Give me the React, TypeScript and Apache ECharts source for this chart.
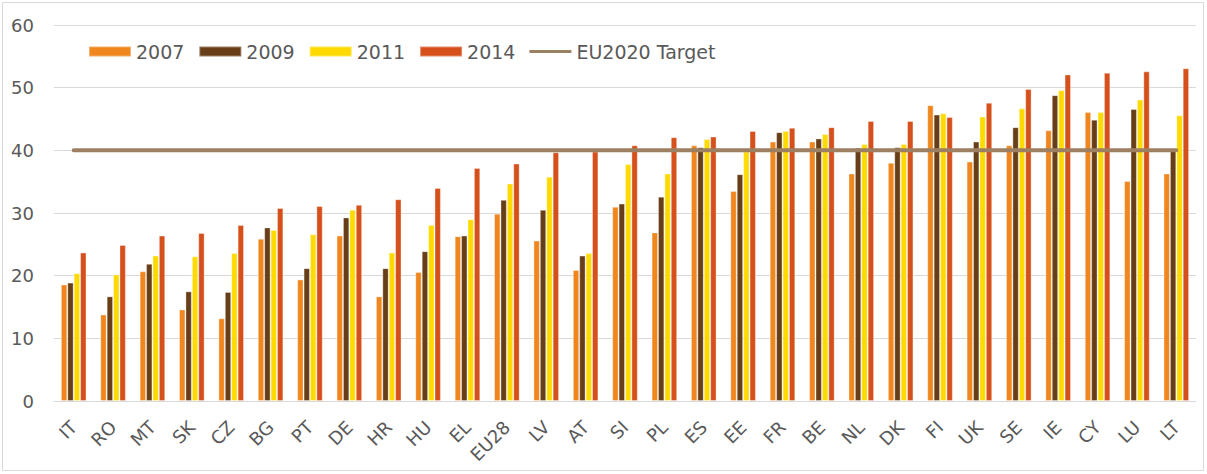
import React, { useEffect, useRef } from "react";
import * as echarts from "echarts";

const categories = ["IT","RO","MT","SK","CZ","BG","PT","DE","HR","HU","EL","EU28","LV","AT","SI","PL","ES","EE","FR","BE","NL","DK","FI","UK","SE","IE","CY","LU","LT"];
const v2007 = [18.6,13.8,20.7,14.6,13.2,25.9,19.4,26.4,16.7,20.6,26.3,29.9,25.6,20.9,31.0,26.9,40.8,33.5,41.4,41.4,36.3,38.0,47.2,38.2,40.8,43.2,46.1,35.1,36.3];
const v2009 = [18.9,16.7,21.9,17.5,17.4,27.7,21.2,29.3,21.2,23.9,26.4,32.1,30.5,23.2,31.5,32.6,40.5,36.2,42.9,41.9,40.4,40.5,45.7,41.4,43.7,48.8,44.9,46.6,40.3];
const v2011 = [20.4,20.2,23.2,23.1,23.6,27.3,26.6,30.5,23.7,28.1,29.0,34.7,35.8,23.6,37.8,36.3,41.8,39.8,43.1,42.6,41.0,41.0,45.9,45.4,46.7,49.6,46.1,48.1,45.6];
const v2014 = [23.7,24.9,26.4,26.8,28.1,30.8,31.1,31.3,32.2,34.0,37.2,37.9,39.7,39.8,40.8,42.1,42.2,43.1,43.6,43.7,44.7,44.7,45.3,47.6,49.8,52.1,52.4,52.6,53.1];
const target = categories.map(() => 40);

const colors = {
  y2007: "#EF861E",
  y2009: "#673E17",
  y2011: "#FFDA00",
  y2014: "#D5501A",
  target: "#9D8061",
};

export default function App() {
  const ref = useRef<HTMLDivElement>(null);
  useEffect(() => {
    if (!ref.current) return;
    const chart = echarts.init(ref.current, null, { renderer: "svg" });
    const font = "'DejaVu Sans', Verdana, sans-serif";
    const barBase = {
      type: "bar" as const,
      barGap: "0%",
      barCategoryGap: "35%",
    };
    const border = { borderColor: "rgba(255,255,255,0.35)", borderWidth: 1 };
    chart.setOption({
      animation: false,
      textStyle: { fontFamily: font },
      grid: { left: 54, right: 11, top: 25, bottom: 73 },
      legend: {
        left: 83,
        top: 37,
        itemWidth: 42,
        itemHeight: 10,
        itemGap: 14,
        symbolKeepAspect: true,
        textStyle: { fontSize: 19, color: "#595959", fontFamily: font },
        data: [
          { name: "2007", icon: "rect" },
          { name: "2009", icon: "rect" },
          { name: "2011", icon: "rect" },
          { name: "2014", icon: "rect" },
          { name: "EU2020 Target", icon: "path://M0,0H42V3H0Z" },
        ],
      },
      xAxis: {
        type: "category",
        data: categories,
        axisLine: { lineStyle: { color: "#D9D9D9", width: 1 } },
        axisTick: { show: false },
        axisLabel: {
          rotate: 45,
          fontSize: 18,
          color: "#595959",
          margin: 23,
          interval: 0,
          fontFamily: font,
        },
      },
      yAxis: {
        type: "value",
        min: 0,
        max: 60,
        interval: 10,
        axisLine: { show: false },
        axisTick: { show: false },
        splitLine: { lineStyle: { color: "#D9D9D9", width: 1 } },
        axisLabel: { fontSize: 18, color: "#595959", margin: 20, fontFamily: font },
      },
      graphic: [
        {
          type: "rect",
          shape: { x: 2.5, y: 2.5, width: 1201, height: 468 },
          style: { fill: "none", stroke: "#D9D9D9", lineWidth: 1 },
          silent: true,
        },
      ],
      series: [
        { ...barBase, name: "2007", data: v2007, itemStyle: { color: colors.y2007, ...border } },
        { ...barBase, name: "2009", data: v2009, itemStyle: { color: colors.y2009, ...border } },
        { ...barBase, name: "2011", data: v2011, itemStyle: { color: colors.y2011, ...border } },
        { ...barBase, name: "2014", data: v2014, itemStyle: { color: colors.y2014, ...border } },
        {
          type: "line",
          name: "EU2020 Target",
          data: target,
          symbol: "none",
          z: 5,
          itemStyle: { color: colors.target },
          lineStyle: { color: colors.target, width: 4, cap: "round" },
        },
      ],
    });
    return () => chart.dispose();
  }, []);
  return (
    <div
      ref={ref}
      style={{ position: "fixed", left: 0, top: 0, width: 1207, height: 474, background: "#fff" }}
    />
  );
}
